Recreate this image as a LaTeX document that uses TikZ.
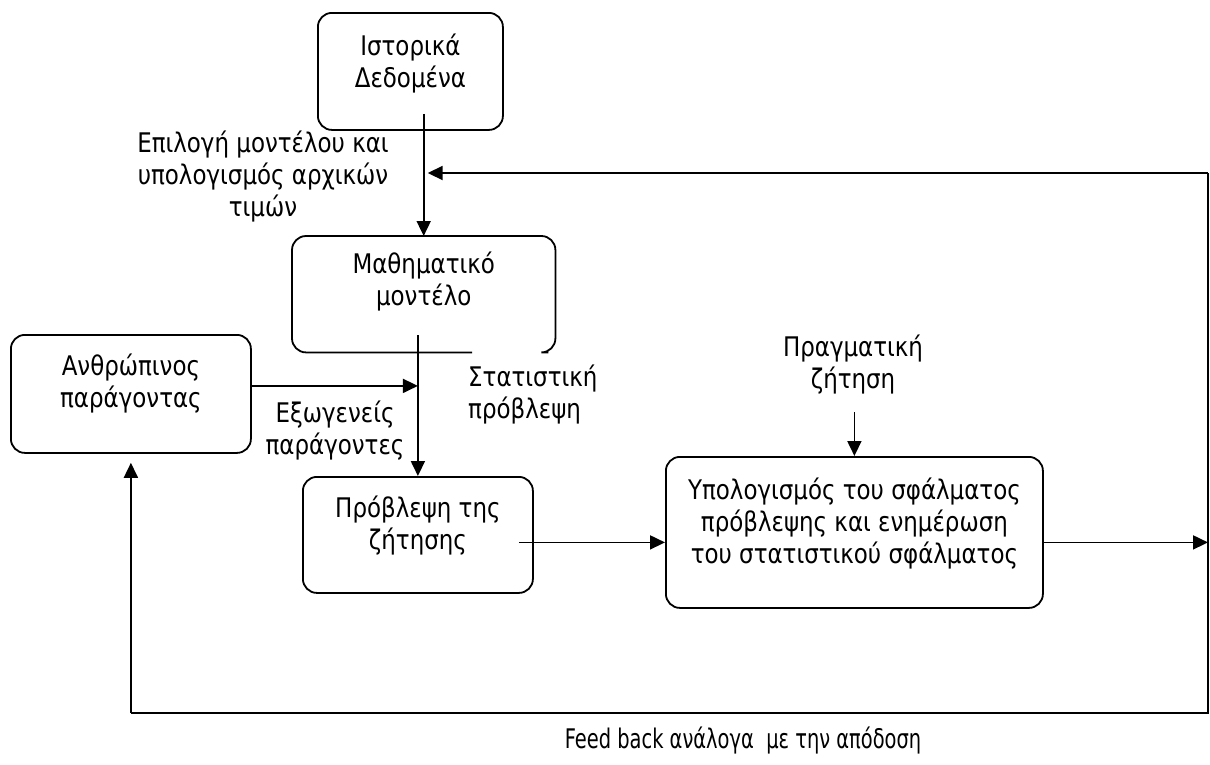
\documentclass[tikz,border=0pt]{standalone}
\usepackage{fontspec}
\setmainfont[FakeStretch=0.85]{DejaVu Sans}
\newfontfamily\narrowfont[FakeStretch=0.72]{DejaVu Sans}
\usetikzlibrary{calc,positioning,arrows.meta}

\tikzset{
  box/.style={rectangle,rounded corners=14pt,draw=black,line width=1.8pt,anchor=north west,inner sep=0pt},
  txt/.style={align=center,font=\fontsize{27}{32}\selectfont,inner sep=0pt},
  conn/.style={line width=1.8pt,-{Triangle[length=15pt,width=14pt]}},
}

\begin{document}
\begin{tikzpicture}[x=1pt,y=-1pt]
  \useasboundingbox (0,0) rectangle (1210,764);

  % boxes
  \node (hist) [box,minimum width=185pt,minimum height=117pt] at (317,12) {};
  \node (model) [rectangle,inner sep=0pt,anchor=north west,minimum width=263pt,minimum height=116pt] at (292,236) {};
  \draw[line width=1.8pt,rounded corners=14pt] ($(model.south west)+(180,0)$) -- (model.south west) -- (model.north west) -- (model.north east) -- (model.south east) -- ($(model.south east)+(-7,0)$);
  \node (human) [box,minimum width=240pt,minimum height=118pt] at (10,334) {};
  \node (forecast) [box,minimum width=230pt,minimum height=116pt] at (302,476) {};
  \node (error) [box,minimum width=377pt,minimum height=151pt] at (665,456) {};

  % box texts
  \node (hist_txt) [txt] at ($(hist.north)+(0,52)$) {Ιστορικά\\Δεδομένα};
  \node (model_txt) [txt] at ($(model.north)+(0,46)$) {Μαθηματικό\\μοντέλο};
  \node (human_txt) [txt] at ($(human.north)+(0,50)$) {Ανθρώπινος\\παράγοντας};
  \node (forecast_txt) [txt] at ($(forecast.north)+(0,50)$) {Πρόβλεψη της\\ζήτησης};
  \node (error_txt) [txt] at ($(error.north)+(0,68)$) {Υπολογισμός του σφάλματος\\πρόβλεψης και ενημέρωση\\του στατιστικού σφάλματος};

  % free labels
  \node (choice) [txt] at (263,177) {Επιλογή μοντέλου και\\υπολογισμός αρχικών\\τιμών};
  \node (stat) [txt,align=left,anchor=west] at (468,395) {Στατιστική\\πρόβλεψη};
  \node (exog) [txt] at (335,431) {Εξωγενείς\\παράγοντες};
  \node (demand) [txt] at (853,365) {Πραγματική\\ζήτηση};
  \node (feed) [txt,font=\narrowfont\fontsize{27}{32}\selectfont] at (743,740) {Feed back ανάλογα\ \ με την απόδοση};

  % feedback loop
  \coordinate (fb_ne) at (1208,173);
  \coordinate (fb_se) at (1208,713);
  \coordinate (fb_sw) at (human.south |- fb_se);

  \draw[conn] ($(model.north |- hist.south)+(0,-17)$) -- (model.north);
  \draw[conn] (fb_ne) -- ($(model.north |- fb_ne)+(4,0)$);
  \draw[conn] ($(forecast.north |- model.south)+(0,-17)$) -- (forecast.north);
  \draw[conn] ($(human.east)+(0,-8)$) -- ($(forecast.north |- human.east)+(0,-8)$);
  \draw[conn] ($(error.west -| forecast.east)+(-15,10)$) -- ($(error.west)+(0,10)$);
  \draw[conn] ($(error.east)+(0,10)$) -- ($(fb_ne |- error.east)+(0,10)$);
  \draw[conn] ($(error.north)+(0,-44)$) -- (error.north);
  \draw[line width=1.8pt] (fb_ne) -- (fb_se) -- (fb_sw);
  \draw[conn] (fb_sw) -- ($(human.south)+(0,9)$);

\end{tikzpicture}
\end{document}
